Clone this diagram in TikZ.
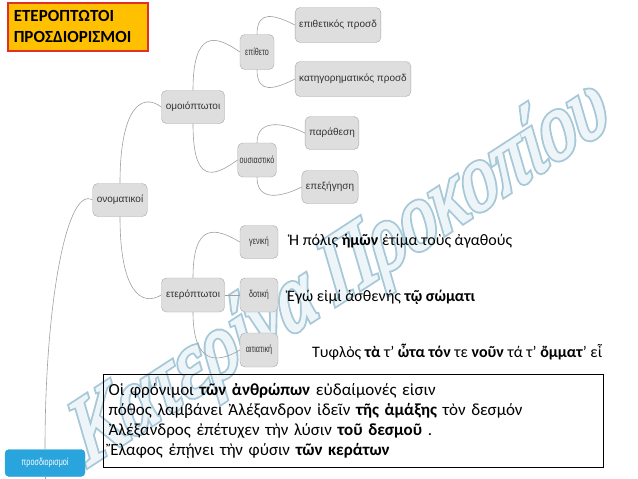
\documentclass[tikz,border=0pt]{standalone}
\usepackage{fontspec}
\setmainfont{Carlito}
\newfontfamily\mmfont{Liberation Sans}
\newfontfamily\mmnarrow{Liberation Sans}[FakeStretch=0.72]
\newfontfamily\wmout{Liberation Serif}[FakeSlant=0.3,FakeStretch=0.8,FakeBold=6]
\newfontfamily\wmin{Liberation Serif}[FakeSlant=0.3,FakeStretch=0.8,FakeBold=2]

\definecolor{mmfill}{HTML}{DEDEDE}
\definecolor{mmborder}{HTML}{A8A8A8}
\definecolor{mmtext}{HTML}{333333}
\definecolor{mmline}{HTML}{A0A0A0}
\definecolor{rootblue}{HTML}{2AA4DC}
\definecolor{titlefill}{HTML}{FFC000}
\definecolor{titleedge}{HTML}{E0302A}
\definecolor{wmfill}{HTML}{EEF5F8}
\definecolor{wmedge}{HTML}{A6C8D8}

\begin{document}
\begin{tikzpicture}[x=1pt,y=1pt]
  \tikzstyle{mmnode}=[draw=mmborder,fill=mmfill,rounded corners=5pt,minimum height=33pt,inner xsep=4pt,text=mmtext,font=\mmfont\fontsize{10}{11}\selectfont]
  \tikzstyle{narrowbox}=[font=\mmnarrow\fontsize{10}{11}\selectfont,inner xsep=2pt,minimum width=34pt]
  \tikzstyle{mmlink}=[draw=mmline,line width=0.6pt]
  \tikzstyle{sentence}=[anchor=west,inner sep=0pt,font=\fontsize{16}{19}\selectfont]
  \useasboundingbox (0,0) rectangle (638,-479);

  % signature
  \node[rotate=33,text=wmedge,font=\wmout\fontsize{92}{92}\selectfont] (wmback) at (336,-278) {Κατερίνα Προκοπίου};
  \node[rotate=33,text=wmfill,font=\wmin\fontsize{92}{92}\selectfont] (wm) at (336,-278) {Κατερίνα Προκοπίου};

  % title
  \node[draw=titleedge,line width=1.5pt,fill=titlefill,anchor=north west,minimum width=140pt,minimum height=48pt,
        text width=128pt,inner xsep=6pt,align=left,font=\bfseries\fontsize{17}{21}\selectfont] (title) at (7,-2)
        {ΕΤΕΡΟΠΤΩΤΟΙ\\ΠΡΟΣΔΙΟΡΙΣΜΟΙ};

  % mind map
  \node[mmnode,fill=rootblue,draw=rootblue,text=white,minimum width=80pt,minimum height=27pt,rounded corners=4pt,
        font=\mmnarrow\fontsize{10}{11}\selectfont] (root) at (45,-463) {προσδιορισμοί};
  \node[mmnode,minimum width=54pt] (onom) at (120,-200) {ονοματικοί};
  \node[mmnode,minimum width=63pt] (omoi) at (193,-107) {ομοιόπτωτοι};
  \node[mmnode,minimum width=63pt,minimum height=34pt] (eter) at (193,-295) {ετερόπτωτοι};
  \node[mmnode,narrowbox,minimum height=35pt] (epith) at (257,-52) {επίθετο};
  \node[mmnode,narrowbox,minimum height=34pt] (ousiast) at (257,-160) {ουσιαστικό};
  \node[mmnode,minimum width=83pt,minimum height=35pt] (epprosd) at (338,-25) {επιθετικός προσδ};
  \node[mmnode,minimum width=113pt,minimum height=35pt] (katprosd) at (353,-79) {κατηγορηματικός προσδ};
  \node[mmnode,minimum width=51pt] (parath) at (332,-133) {παράθεση};
  \node[mmnode,minimum width=46pt] (epexig) at (330,-187) {επεξήγηση};
  \node[mmnode,narrowbox,minimum width=38pt] (gen) at (259,-242) {γενική};
  \node[mmnode,narrowbox,minimum width=38pt,minimum height=34pt] (dot) at (259,-295) {δοτική};
  \node[mmnode,narrowbox,minimum width=38pt,minimum height=34pt] (aitiat) at (259,-350) {αιτιατική};
  \coordinate (bottom) at (45,-479);

  \draw[mmlink] (bottom) -- (root.south);
  \draw[mmlink] (root.north) .. controls +(0,150) and +(-25,15) .. (onom.west);
  \draw[mmlink] (onom.north) .. controls +(0,75) and +(-20,15) .. (omoi.west);
  \draw[mmlink] (onom.south) .. controls +(0,-75) and +(-20,-12) .. (eter.west);
  \draw[mmlink] (omoi.north) .. controls +(0,60) and +(-25,18) .. (epith.west);
  \draw[mmlink] (omoi.south) .. controls +(0,-60) and +(-25,-18) .. (ousiast.west);
  \draw[mmlink] (epith.north) .. controls +(0,25) and +(-20,10) .. (epprosd.west);
  \draw[mmlink] (epith.south) .. controls +(0,-25) and +(-20,-10) .. (katprosd.west);
  \draw[mmlink] (ousiast.north) .. controls +(0,25) and +(-20,10) .. (parath.west);
  \draw[mmlink] (ousiast.south) .. controls +(0,-25) and +(-20,-10) .. (epexig.west);
  \draw[mmlink] (eter.north) .. controls +(0,55) and +(-25,15) .. (gen.west);
  \draw[mmlink] (eter.east) -- (dot.west);
  \draw[mmlink] (eter.south) .. controls +(0,-50) and +(-25,-15) .. (aitiat.west);

  % examples
  \node[sentence] (genex) at (289,-241) {Ἡ πόλις \textbf{ἡμῶν} ἐτίμα τοὺς ἀγαθούς};
  \node[sentence] (dotex) at (287,-297) {Ἐγώ εἰμί ἀσθενής \textbf{τῷ σώματι}};
  \node[sentence] (aitex) at (312,-352) {Τυφλὸς \textbf{τὰ} τ' \textbf{ὦτα τόν} τε \textbf{νοῦν} τά τ' \textbf{ὄμματ}' εἶ};

  \node[draw,line width=1pt,anchor=north west,minimum width=500pt,minimum height=93pt,text width=490pt,
        inner xsep=5pt,align=left,font=\fontsize{17}{20}\selectfont] (genbox) at (103,-374)
        {Οἱ φρόνιμοι \textbf{τῶν ἀνθρώπων} εὐδαίμονές εἰσιν\\
         πόθος λαμβάνει Ἀλέξανδρον ἰδεῖν \textbf{τῆς ἁμάξης} τὸν δεσμόν\\
         Ἀλέξανδρος ἐπέτυχεν τὴν λύσιν \textbf{τοῦ δεσμοῦ} .\\
         Ἔλαφος ἐπῄνει τὴν φύσιν \textbf{τῶν κεράτων}};
\end{tikzpicture}
\end{document}
